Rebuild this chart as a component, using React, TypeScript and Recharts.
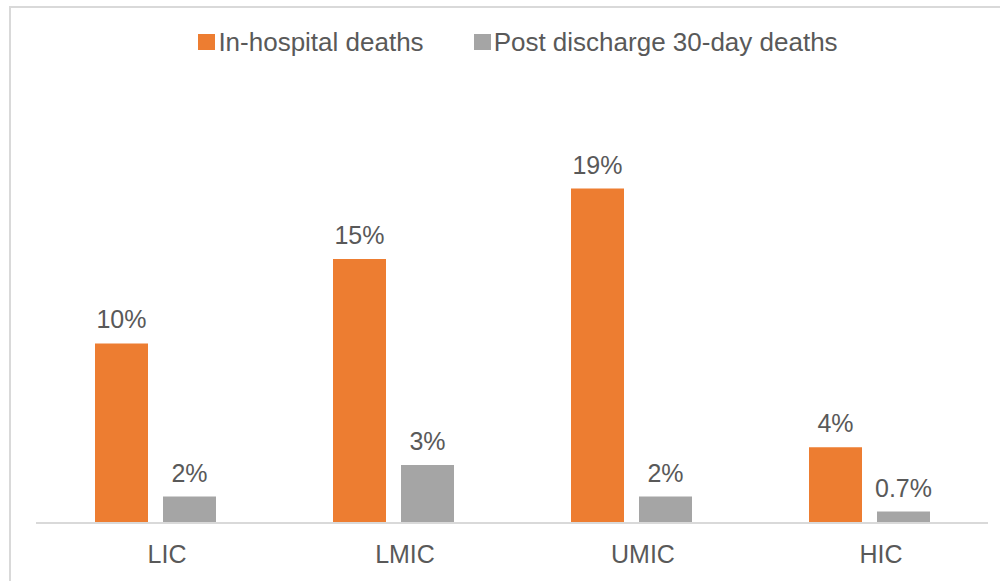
import React from "react";
import { BarChart, Bar, XAxis, YAxis, Legend, LabelList } from "recharts";

const categories = ["LIC", "LMIC", "UMIC", "HIC"];
const inHospital = [10.2, 15.0, 19.0, 4.3];
const postDischarge = [1.5, 3.3, 1.5, 0.65];
const inHospitalLabels = ["10%", "15%", "19%", "4%"];
const postDischargeLabels = ["2%", "3%", "2%", "0.7%"];

const ORANGE = "#ED7D31";
const GRAY = "#A5A5A5";
const TEXT = "#595959";
const LINE = "#D9D9D9";
const FONT = '"Liberation Sans", Arial, sans-serif';

const data = categories.map((name, i) => ({
  name,
  inHospital: inHospital[i],
  postDischarge: postDischarge[i],
  inLabel: inHospitalLabels[i],
  postLabel: postDischargeLabels[i],
}));

const renderLegend = (props: any) => {
  const { payload = [] } = props;
  return (
    <div
      style={{
        display: "flex",
        justifyContent: "center",
        alignItems: "center",
        gap: 50,
        height: 30,
        lineHeight: "30px",
        paddingLeft: 36,
        fontFamily: FONT,
        fontSize: 26,
        color: TEXT,
      }}
    >
      {payload.map((entry: any) => (
        <div key={entry.value} style={{ display: "flex", alignItems: "center" }}>
          <span
            style={{
              display: "inline-block",
              width: 17,
              height: 16,
              background: entry.color,
              marginRight: 3,
            }}
          />
          <span>{entry.value}</span>
        </div>
      ))}
    </div>
  );
};

export default function App() {
  return (
    <div
      style={{
        position: "absolute",
        left: 0,
        top: 0,
        width: 1000,
        height: 581,
        background: "#fff",
        overflow: "hidden",
      }}
    >
      <div
        style={{
          position: "absolute",
          left: 9,
          top: 6,
          width: 1000,
          height: 600,
          borderLeft: `2px solid ${LINE}`,
          borderTop: `2px solid ${LINE}`,
        }}
      />
      <div style={{ position: "absolute", left: 0, top: 0 }}>
        <BarChart
          width={1000}
          height={581}
          data={data}
          margin={{ top: 83, right: 12, left: 36, bottom: 0 }}
          barSize={53}
          barGap={15}
        >
          <XAxis
            dataKey="name"
            height={58}
            axisLine={{ stroke: LINE, strokeWidth: 2 }}
            tickLine={false}
            tickMargin={16}
            tick={{ fill: TEXT, fontSize: 25, fontFamily: FONT, dx: 12 }}
            interval={0}
          />
          <YAxis hide domain={[0, 25]} />
          <Legend
            verticalAlign="middle"
            align="center"
            layout="horizontal"
            content={renderLegend}
            wrapperStyle={{ top: 27, left: 0, width: 1000 }}
          />
          <Bar dataKey="inHospital" name="In-hospital deaths" fill={ORANGE} isAnimationActive={false}>
            <LabelList
              dataKey="inLabel"
              position="top"
              offset={15}
              fill={TEXT}
              fontSize={25}
              fontFamily={FONT}
            />
          </Bar>
          <Bar dataKey="postDischarge" name="Post discharge 30-day deaths" fill={GRAY} isAnimationActive={false}>
            <LabelList
              dataKey="postLabel"
              position="top"
              offset={15}
              fill={TEXT}
              fontSize={25}
              fontFamily={FONT}
            />
          </Bar>
        </BarChart>
      </div>
    </div>
  );
}
